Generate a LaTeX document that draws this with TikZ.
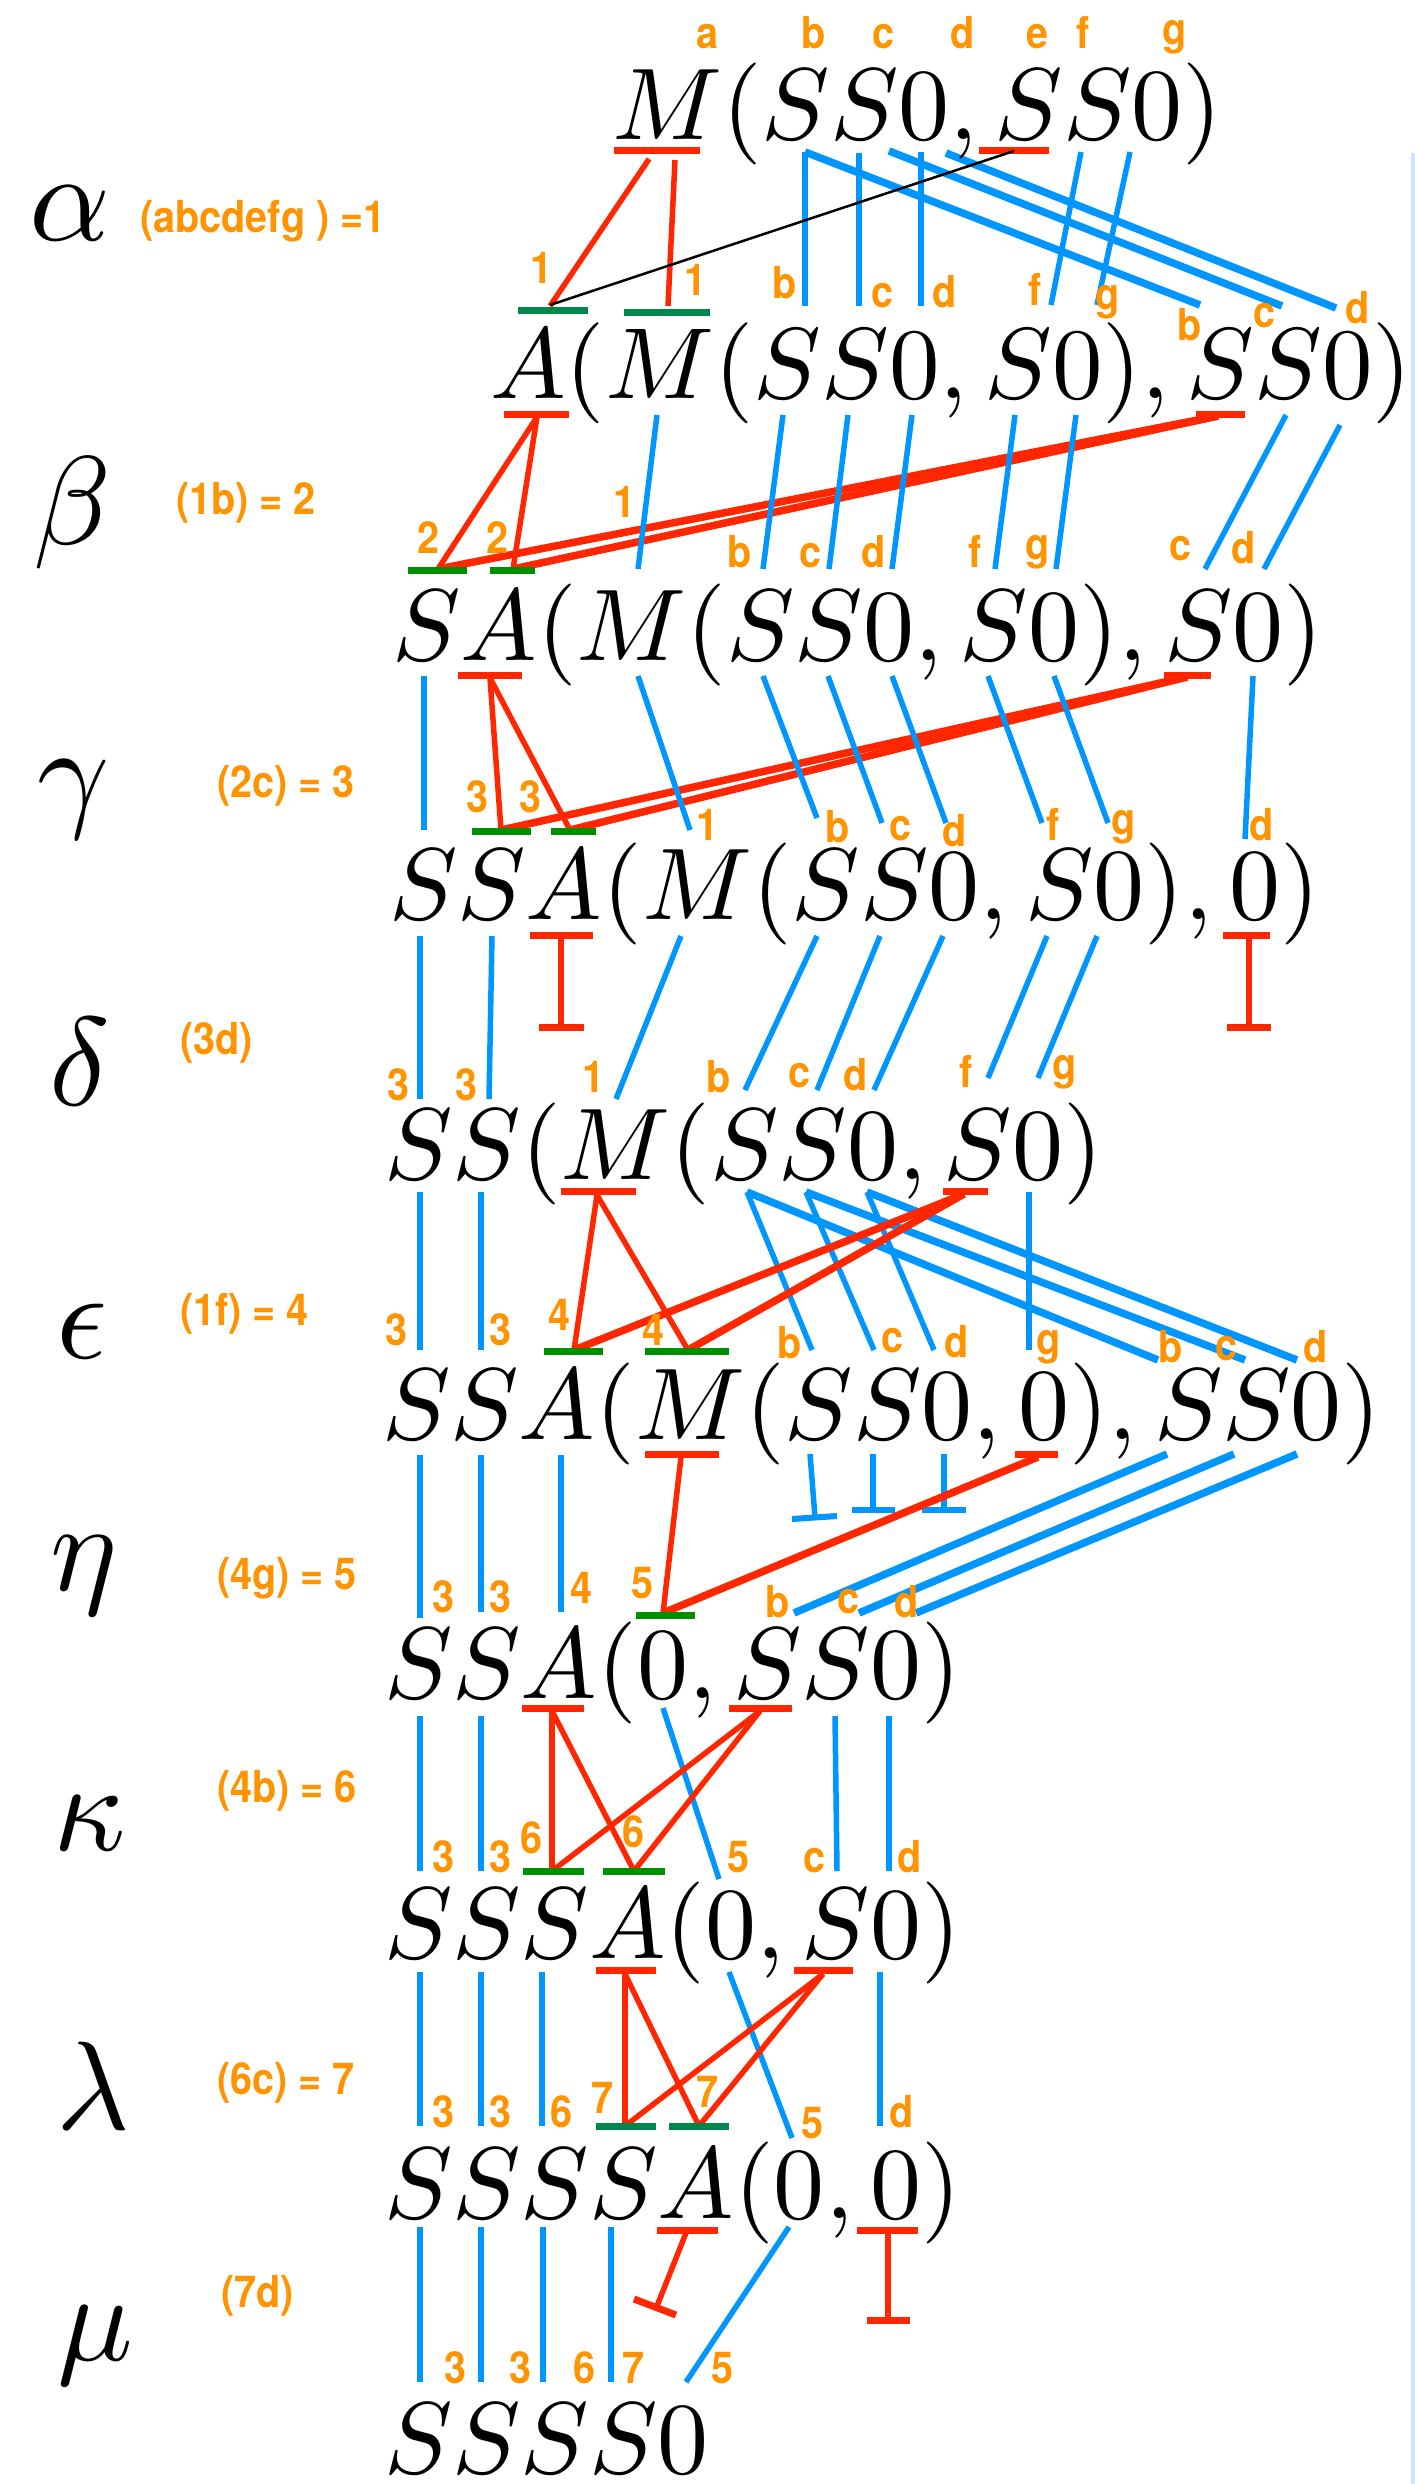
\documentclass[tikz,border=0pt]{standalone}
\usepackage{fontspec}
\DeclareFontShape{OML}{cmm}{m}{it}{<->cmmi10}{\skewchar\font'177}
\DeclareFontShape{OT1}{cmr}{m}{n}{<->cmr10}{}
\DeclareFontShape{OMS}{cmsy}{m}{n}{<->cmsy10}{\skewchar\font'60}
\newfontfamily\lblfont{TeX Gyre Heros}[FakeStretch=0.9]
\definecolor{rd}{HTML}{FF2600}
\definecolor{bl}{HTML}{0096FF}
\definecolor{gr}{HTML}{008F00}
\definecolor{grb}{HTML}{00884C}
\definecolor{og}{HTML}{FF9300}
\definecolor{lb}{HTML}{CCE5FF}
\newcommand\mkseg[4]{\coordinate (#2s) at (#3); \coordinate (#2e) at (#4); \draw[#1] (#2s) -- (#2e);}
\begin{document}
\begin{tikzpicture}[x=1pt,y=-1pt,
  fm/.style={font=\fontsize{102}{102}\selectfont, inner sep=0pt, anchor=base west},
  gk/.style={font=\fontsize{126}{126}\selectfont, inner sep=0pt, anchor=base},
  lab/.style={font=\lblfont\bfseries\fontsize{44}{44}\selectfont, text=og, inner sep=0pt, anchor=base},
  eqlab/.style={lab, anchor=base west},
  bln/.style={draw=bl, line width=5.5pt},
  blt/.style={draw=bl, line width=7.5pt},
  rln/.style={draw=rd, line width=5.5pt},
  rlt/.style={draw=rd, line width=7.5pt},
  blk/.style={draw=black, line width=2.5pt},
  rtb/.style={draw=rd, line width=7pt},
  btb/.style={draw=bl, line width=6pt},
  bar/.style={inner sep=0pt, minimum height=7pt, draw=none, rectangle},
  rbar/.style={bar, fill=rd},
  gbar/.style={bar, fill=gr},
  gbarb/.style={bar, fill=grb},
]
\fill[white] (0,0) rectangle (1415,2484);
\useasboundingbox (0,0) rectangle (1415,2484);
\fill[lb] (1411,153) rectangle (1415,2484);

% ---------- T0 ----------
\mkseg{rln}{r0a}{649,159}{550,306}
\mkseg{rln}{r0b}{675,160}{668,306}
\mkseg{bln}{b0a}{805,152}{805,306}
\mkseg{blt}{b0b}{805,152}{1200,305}
\mkseg{bln}{b0c}{859,153}{859,306}
\mkseg{blt}{b0d}{889,151}{1282,306}
\mkseg{bln}{b0e}{921,152}{921,306}
\mkseg{blt}{b0f}{946,153}{1336,308}
\mkseg{bln}{b0g}{1081,152}{1051,305}
\mkseg{bln}{b0h}{1130,152}{1097,305}
\node[rbar, minimum width=86pt] (rb0a) at (657,150) {};
\node[rbar, minimum width=70pt] (rb0b) at (1014,150) {};
\node[gbarb, minimum width=70pt] (gb1a) at (553,310) {};
\node[gbarb, minimum width=86pt] (gb1b) at (667,312) {};
\mkseg{blk}{k0}{1014,151}{550,305}

% ---------- T1 ----------
\mkseg{rln}{r1a}{537,417}{438,569}
\mkseg{rln}{r1b}{537,417}{513,569}
\mkseg{rlt}{r1c}{1218,416}{438,569}
\mkseg{rlt}{r1d}{1218,416}{513,569}
\mkseg{bln}{b1a}{657,415}{638,569}
\mkseg{bln}{b1b}{783,415}{763,569}
\mkseg{bln}{b1c}{848,415}{829,569}
\mkseg{bln}{b1d}{912,415}{892,569}
\mkseg{bln}{b1e}{1015,415}{995,569}
\mkseg{bln}{b1f}{1076,415}{1056,569}
\mkseg{bln}{b1g}{1286,415}{1205,569}
\mkseg{bln}{b1h}{1340,425}{1264,569}
\node[rbar, minimum width=65pt] (rb1a) at (536.5,414) {};
\node[rbar, minimum width=49pt] (rb1b) at (1220.5,414) {};
\node[gbar, minimum width=59pt] (gb2a) at (437.5,570) {};
\node[gbar, minimum width=45pt] (gb2b) at (512.5,570) {};

% ---------- T2 ----------
\mkseg{rln}{r2a}{490,678}{501,830}
\mkseg{rln}{r2b}{490,678}{570,830}
\mkseg{rlt}{r2c}{1187,677}{501,830}
\mkseg{rlt}{r2d}{1187,677}{570,830}
\mkseg{bln}{b2a}{424,676}{424,830}
\mkseg{bln}{b2b}{638,676}{690,830}
\mkseg{bln}{b2c}{763,676}{817,818}
\mkseg{bln}{b2d}{828,676}{882,823}
\mkseg{bln}{b2e}{892,676}{946,823}
\mkseg{bln}{b2f}{988,676}{1042,823}
\mkseg{bln}{b2g}{1054,676}{1108,823}
\mkseg{bln}{b2h}{1253,676}{1245,839}
\node[rbar, minimum width=64pt] (rb2a) at (490,675) {};
\node[rbar, minimum width=47pt] (rb2b) at (1187.5,675) {};
\node[gbar, minimum width=59pt] (gb3a) at (501.5,831) {};
\node[gbar, minimum width=45pt] (gb3b) at (573.5,831) {};

% ---------- T3 ----------
\mkseg{bln}{b3a}{420,936}{420,1099}
\mkseg{bln}{b3b}{492,936}{489,1099}
\mkseg{bln}{b3c}{681,936}{616,1099}
\mkseg{bln}{b3d}{817,936}{745,1090}
\mkseg{bln}{b3e}{880,936}{817,1090}
\mkseg{bln}{b3f}{943,936}{874,1090}
\mkseg{bln}{b3g}{1047,936}{988,1078}
\mkseg{bln}{b3h}{1097,936}{1038,1078}
\mkseg{rln}{r3a}{561,938}{561,1027}
\mkseg{rln}{r3b}{1249,938}{1249,1027}
\node[rbar, minimum width=63pt] (rb3a) at (561.5,935) {};
\node[rbar, minimum width=45pt] (rb3c) at (561.5,1027) {};
\node[rbar, minimum width=47pt] (rb3b) at (1246.5,935) {};
\node[rbar, minimum width=44pt] (rb3d) at (1249,1027) {};

% ---------- T4 ----------
\mkseg{bln}{b4a}{420,1192}{420,1350}
\mkseg{bln}{b4b}{481,1192}{481,1350}
\mkseg{bln}{b4c}{747,1192}{812,1350}
\mkseg{bln}{b4d}{806,1192}{874,1350}
\mkseg{bln}{b4e}{867,1192}{934,1350}
\mkseg{bln}{b4f}{1029,1192}{1029,1350}
\mkseg{blt}{b4g}{747,1192}{1158,1360}
\mkseg{blt}{b4h}{806,1192}{1245,1360}
\mkseg{blt}{b4i}{867,1192}{1297,1360}
\mkseg{rln}{r4a}{597,1195}{574,1350}
\mkseg{rln}{r4b}{597,1195}{688,1350}
\mkseg{rlt}{r4c}{964,1194}{574,1350}
\mkseg{rlt}{r4d}{964,1194}{688,1350}
\node[rbar, minimum width=75pt] (rb4a) at (598.5,1191) {};
\node[rbar, minimum width=45pt] (rb4b) at (965.5,1191) {};
\node[gbar, minimum width=59pt] (gb5a) at (573.5,1351) {};
\node[gbar, minimum width=84pt] (gb5b) at (687,1351) {};

% ---------- T5 ----------
\mkseg{bln}{b5a}{420,1455}{420,1618}
\mkseg{bln}{b5b}{481,1455}{481,1612}
\mkseg{bln}{b5c}{561,1455}{561,1612}
\mkseg{bln}{b5d}{810,1454}{815,1517}
\mkseg{bln}{b5e}{873,1454}{873,1508}
\mkseg{bln}{b5f}{944,1454}{944,1508}
\mkseg{btb}{t5d}{792,1519}{837,1516}
\mkseg{btb}{t5e}{852,1510}{895,1510}
\mkseg{btb}{t5f}{922,1510}{966,1510}
\mkseg{blt}{b5g}{1167,1454}{794,1613}
\mkseg{blt}{b5h}{1234,1454}{859,1613}
\mkseg{blt}{b5i}{1297,1454}{916,1613}
\mkseg{rln}{r5a}{681,1457}{663,1613}
\mkseg{rlt}{r5b}{1038,1457}{663,1613}
\node[rbar, minimum width=74pt] (rb5a) at (682,1454) {};
\node[rbar, minimum width=43pt] (rb5b) at (1036.5,1454) {};
\node[gbar, minimum width=59pt] (gb6a) at (665.5,1615) {};

% ---------- T6 ----------
\mkseg{bln}{b6a}{420,1716}{420,1871}
\mkseg{bln}{b6b}{481,1716}{481,1871}
\mkseg{bln}{b6c}{663,1708}{719,1879}
\mkseg{bln}{b6d}{835,1716}{837,1871}
\mkseg{bln}{b6e}{889,1716}{889,1871}
\mkseg{rln}{r6a}{552,1711}{552,1871}
\mkseg{rln}{r6b}{552,1711}{634,1871}
\mkseg{rln}{r6c}{760,1711}{552,1871}
\mkseg{rln}{r6d}{760,1711}{634,1871}
\node[rbar, minimum width=62pt] (rb6a) at (553,1708) {};
\node[rbar, minimum width=63pt] (rb6b) at (760.5,1708) {};
\node[gbar, minimum width=61pt] (gb7a) at (553.5,1871) {};
\node[gbar, minimum width=62pt] (gb7b) at (634,1871) {};

% ---------- T7 ----------
\mkseg{bln}{b7a}{420,1972}{420,2126}
\mkseg{bln}{b7b}{481,1972}{481,2126}
\mkseg{bln}{b7c}{542,1972}{542,2126}
\mkseg{bln}{b7d}{729,1972}{792,2138}
\mkseg{bln}{b7e}{880,1972}{880,2126}
\mkseg{rln}{r7a}{625,1974}{625,2126}
\mkseg{rln}{r7b}{625,1974}{699,2126}
\mkseg{rln}{r7c}{823,1974}{625,2126}
\mkseg{rln}{r7d}{823,1974}{699,2126}
\node[rbar, minimum width=60pt] (rb7a) at (626,1970) {};
\node[rbar, minimum width=59pt] (rb7b) at (823.5,1970) {};
\node[gbarb, minimum width=60pt] (gb8a) at (626,2126) {};
\node[gbarb, minimum width=60pt] (gb8b) at (699,2126) {};

% ---------- T8 ----------
\mkseg{bln}{b8a}{420,2227}{420,2382}
\mkseg{bln}{b8b}{481,2227}{481,2382}
\mkseg{bln}{b8c}{543,2227}{543,2382}
\mkseg{bln}{b8d}{611,2227}{611,2382}
\mkseg{bln}{b8e}{789,2227}{686,2382}
\mkseg{rln}{r8a}{686,2233}{657,2306}
\mkseg{rtb}{t8a}{634,2299}{676,2315}
\mkseg{rln}{r8b}{888,2233}{888,2318}
\node[rbar, minimum width=61pt] (rb8a) at (687.5,2230) {};
\node[rbar, minimum width=61pt] (rb8b) at (887.5,2230) {};
\node[rbar, minimum width=43pt] (rb8c) at (888.5,2320) {};

% ---------- formulas ----------
\node[fm] (f0) at (612,139) {$M(SS0, SS0)$};
\node[fm, font=\fontsize{101}{101}\selectfont] (f1) at (490,398) {$A(M(SS0, S0), SS0)$};
\node[fm] (f2) at (392,660) {$SA(M(SS0, S0), S0)$};
\node[fm] (f3) at (389,919) {$SSA(M(SS0, S0), 0)$};
\node[fm] (f4) at (384,1179) {$SS(M(SS0, S0)$};
\node[fm] (f5) at (382,1439) {$SSA(M(SS0, 0), SS0)$};
\node[fm] (f6) at (384,1698) {$SSA(0, SS0)$};
\node[fm] (f7) at (384,1958) {$SSSA(0, S0)$};
\node[fm] (f8) at (384,2218) {$SSSSA(0, 0)$};
\node[fm] (f9) at (384,2473) {$SSSS0$};

% ---------- greek ----------
\node[gk] (ga) at (70,240) {$\alpha$};
\node[gk] (gbt) at (72,544) {$\beta$};
\node[gk] (gg) at (74,814) {$\gamma$};
\node[gk] (gd) at (80,1105) {$\delta$};
\node[gk] (ge) at (82,1358) {$\epsilon$};
\node[gk] (gh) at (84,1590) {$\eta$};
\node[gk] (gkp) at (90,1850) {$\kappa$};
\node[gk] (gl) at (93,2129) {$\lambda$};
\node[gk] (gm) at (95,2360) {$\mu$};

% ---------- equation labels ----------
\node[eqlab] (e1) at (140,232) {(abcdefg ) =1};
\node[eqlab] (e2) at (176,514) {(1b) = 2};
\node[eqlab] (e3) at (217,797) {(2c) = 3};
\node[eqlab] (e4) at (180,1054) {(3d)};
\node[eqlab] (e5) at (180,1325) {(1f) = 4};
\node[eqlab] (e6) at (217,1589) {(4g) = 5};
\node[eqlab] (e7) at (217,1802) {(4b) = 6};
\node[eqlab] (e8) at (217,2094) {(6c) = 7};
\node[eqlab] (e9) at (221,2307) {(7d)};

% ---------- small labels ----------
\foreach \t/\x/\y [count=\k] in {a/708/48, b/814/48, c/883/48, d/963/48, e/1037/48, f/1083/48, g/1175/44}
  \node[lab] (l0-\k) at (\x,\y) {\t};
\foreach \t/\x/\y [count=\k] in {1/542/283, 1/695/295, b/785/298, c/882/307, d/945/307, f/1035/305, g/1108/309, b/1190/340, c/1264/327, d/1358/323}
  \node[lab] (l1-\k) at (\x,\y) {\t};
\foreach \t/\x/\y [count=\k] in {2/429/553, 2/498/553, 1/625/517, b/740/567, c/810/567, d/874/567, f/975/567, g/1038/559, c/1180/560, d/1244/563}
  \node[lab] (l2-\k) at (\x,\y) {\t};
\foreach \t/\x/\y [count=\k] in {3/478/812, 3/531/812, 1/707/840, b/838/842, c/900/840, d/955/846, f/1053/840, g/1124/834, d/1262/840}
  \node[lab] (l3-\k) at (\x,\y) {\t};
\foreach \t/\x/\y [count=\k] in {3/399/1100, 3/467/1100, 1/594/1092, b/719/1092, c/799/1087, d/856/1090, f/966/1087, g/1065/1079}
  \node[lab] (l4-\k) at (\x,\y) {\t};
\foreach \t/\x/\y [count=\k] in {3/397/1345, 3/501/1345, 4/560/1330, 4/654/1345, b/790/1358, c/892/1352, d/957/1357, g/1049/1354, b/1171/1362, c/1226/1360, d/1316/1362}
  \node[lab] (l5-\k) at (\x,\y) {\t};
\foreach \t/\x/\y [count=\k] in {3/444/1612, 3/501/1612, 4/582/1603, 5/643/1598, b/778/1617, c/848/1613, d/907/1617}
  \node[lab] (l6-\k) at (\x,\y) {\t};
\foreach \t/\x/\y [count=\k] in {3/444/1872, 3/501/1872, 6/532/1853, 6/634/1847, 5/738/1872, c/814/1872, d/910/1872}
  \node[lab] (l7-\k) at (\x,\y) {\t};
\foreach \t/\x/\y [count=\k] in {3/444/2127, 3/501/2127, 6/562/2127, 7/603/2113, 7/708/2107, 5/812/2138, d/902/2127}
  \node[lab] (l8-\k) at (\x,\y) {\t};
\foreach \t/\x/\y [count=\k] in {3/456/2383, 3/521/2383, 6/585/2383, 7/634/2383, 5/722/2383}
  \node[lab] (l9-\k) at (\x,\y) {\t};
\end{tikzpicture}
\end{document}
